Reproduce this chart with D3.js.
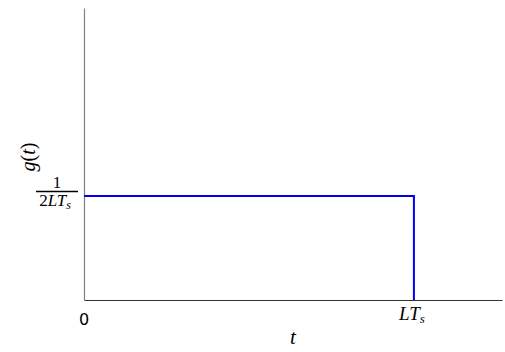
<!DOCTYPE html>
<html>
<head>
<meta charset="utf-8">
<script src="https://cdn.jsdelivr.net/npm/d3@7"></script>
<style>
  body { margin: 0; background: #fff; }
  .math { font-family: "Liberation Serif", "DejaVu Serif", serif; font-style: italic; }
</style>
</head>
<body>
<script>
// pulse g(t) = 1/(2LTs) for 0 <= t <= LTs
var pulseT = [0, 1, 1];
var pulseG = [0.5, 0.5, 0];
var xTickVals = [0, 1];
var yTickVals = [0.5];

var w = 505, h = 352;
var margin = { top: 8, right: 3, bottom: 52, left: 84 };

var xScale = d3.scaleLinear().domain([0, 1.267]).range([margin.left, w - margin.right]);
var yScale = d3.scaleLinear().domain([0, 1.404]).range([h - margin.bottom, margin.top]);

var svg = d3.select("body").append("svg")
  .attr("width", w)
  .attr("height", h);

// spines
svg.append("g")
  .attr("transform", "translate(0," + yScale(0) + ")")
  .call(d3.axisBottom(xScale).tickValues([]).tickSizeOuter(0))
  .call(function(g) { g.select(".domain").attr("stroke", "#333").attr("stroke-width", 1.2); });

svg.append("g")
  .attr("transform", "translate(" + xScale(0) + ",0)")
  .call(d3.axisLeft(yScale).tickValues([]).tickSizeOuter(0))
  .call(function(g) { g.select(".domain").attr("stroke", "#808080").attr("stroke-width", 1.2); });

// pulse line
var line = d3.line()
  .x(function(d) { return xScale(d[0]); })
  .y(function(d) { return yScale(d[1]); });

svg.append("path")
  .datum(pulseT.map(function(t, i) { return [t, pulseG[i]]; }))
  .attr("d", line)
  .attr("fill", "none")
  .attr("stroke", "#0000ee")
  .attr("stroke-width", 2);

// x tick labels
svg.append("text")
  .attr("x", xScale(xTickVals[0]))
  .attr("y", yScale(0) + 25)
  .attr("text-anchor", "middle")
  .attr("font-family", "DejaVu Sans, sans-serif")
  .attr("font-size", 16)
  .text("0");

var lt = svg.append("text")
  .attr("class", "math")
  .attr("x", xScale(xTickVals[1]) - 2)
  .attr("y", yScale(0) + 20)
  .attr("text-anchor", "middle")
  .attr("font-size", 19);
lt.append("tspan").text("LT");
lt.append("tspan").attr("font-size", 13).attr("dy", 3).text("s");

// y tick label: fraction 1 / 2LTs
var fy = yScale(yTickVals[0]);
var frac = svg.append("g").attr("transform", "translate(57," + fy + ")");
frac.append("text")
  .attr("x", 0).attr("y", -8)
  .attr("text-anchor", "middle")
  .attr("font-family", "Liberation Serif, serif")
  .attr("font-size", 17)
  .text("1");
frac.append("line")
  .attr("x1", -21).attr("x2", 21)
  .attr("y1", -4.5).attr("y2", -4.5)
  .attr("stroke", "#000").attr("stroke-width", 1.3);
var den = frac.append("text")
  .attr("x", -2).attr("y", 10)
  .attr("text-anchor", "middle")
  .attr("font-family", "Liberation Serif, serif")
  .attr("font-size", 17);
den.append("tspan").attr("font-style", "normal").text("2");
den.append("tspan").attr("font-style", "italic").text("LT");
den.append("tspan").attr("font-style", "italic").attr("font-size", 12).attr("dy", 3).text("s");

// axis titles
svg.append("text")
  .attr("class", "math")
  .attr("x", (xScale(0) + xScale.range()[1]) / 2)
  .attr("y", h - 8)
  .attr("text-anchor", "middle")
  .attr("font-size", 21)
  .text("t");

svg.append("text")
  .attr("transform", "translate(35," + 157 + ")rotate(-90)")
  .attr("text-anchor", "middle")
  .attr("font-family", "Liberation Serif, serif")
  .attr("font-size", 20)
  .html('<tspan font-style="italic">g</tspan>(<tspan font-style="italic">t</tspan>)');
</script>
</body>
</html>
